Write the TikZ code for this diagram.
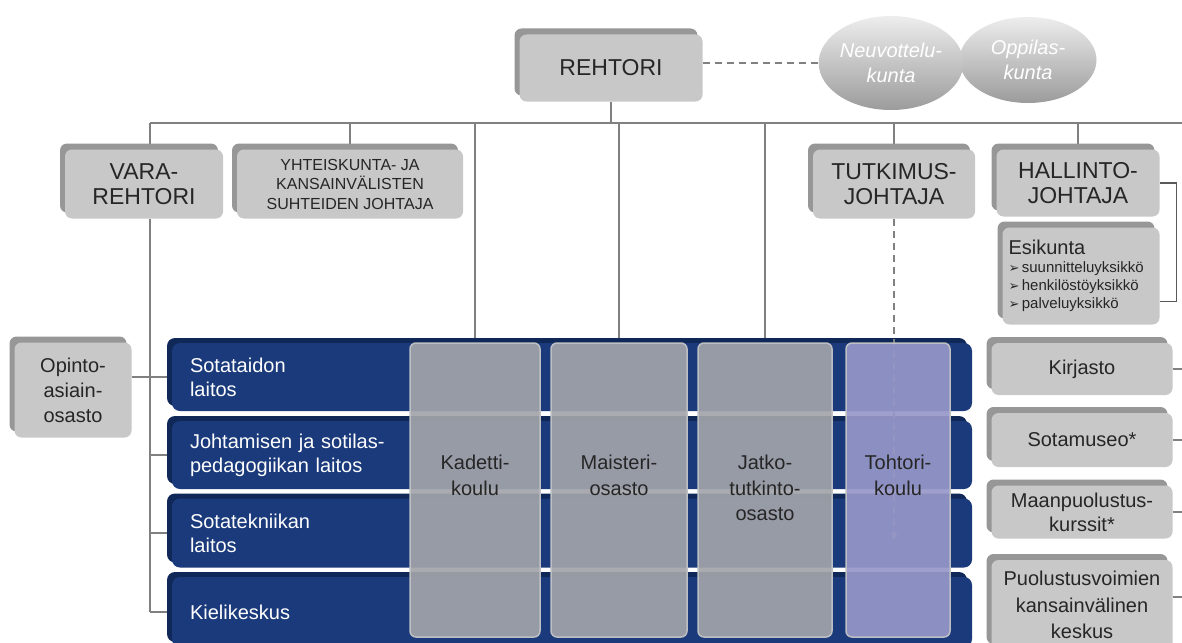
\documentclass[tikz,border=0pt]{standalone}
\usepackage{fontspec}
\setmainfont{Liberation Sans}
\newfontfamily\arrowfont{DejaVu Sans}
\usetikzlibrary{shapes.geometric, shadows, arrows.meta, backgrounds}

\definecolor{boxgray}{HTML}{C8C8C8}
\definecolor{boxdark}{HTML}{979797}
\definecolor{barblue}{HTML}{1B3A7B}
\definecolor{bardark}{HTML}{0F2858}
\definecolor{colgray}{HTML}{A2A4AA}
\definecolor{colrim}{HTML}{BDBFC3}
\definecolor{colviolet}{HTML}{9697C8}
\definecolor{linegray}{HTML}{808080}
\definecolor{textdark}{HTML}{262626}

\begin{document}
\begin{tikzpicture}[%
        x = 1pt,
        y = -1pt,
        > = {Triangle[length = 7pt, width = 6pt]},
        orgline/.style = {
            draw = linegray,
            line width = 1.6pt
        },
        dashline/.style = {
            draw = linegray,
            line width = 1.6pt,
            dash pattern = on 7pt off 5pt
        },
        orgbox/.style = {
            rectangle,
            rounded corners = 7pt,
            fill = boxgray,
            text = textdark,
            align = center,
            inner sep = 3pt,
            copy shadow = {shadow xshift = -5pt, shadow yshift = 6pt,
                           fill = boxdark, draw = none}
        },
        deptbar/.style = {
            rectangle,
            rounded corners = 8pt,
            fill = barblue,
            text = white,
            text width = 764pt,
            inner xsep = 18pt,
            align = left,
            font = \fontsize{20}{24}\selectfont,
            copy shadow = {shadow xshift = -5pt, shadow yshift = 5pt,
                           fill = bardark, draw = none}
        },
        schoolcol/.style = {
            rectangle,
            rounded corners = 6pt,
            fill = colgray,
            fill opacity = 0.92,
            text opacity = 1,
            draw = colrim,
            line width = 1.5pt,
            text = textdark,
            text width = 96pt,
            align = center,
            minimum height = 294pt,
            text depth = 55pt,
            font = \fontsize{20}{25.5}\selectfont
        },
        councilball/.style = {
            ellipse,
            inner sep = 0pt,
            top color = gray!14,
            bottom color = gray!78,
            text = white,
            align = center,
            font = \fontsize{20}{25}\selectfont\itshape
        }
    ]

        \useasboundingbox (0, 0) rectangle (1182, 642);

        % Ends of the long line under the rector.
        \coordinate (busL) at (150, 123);
        \coordinate (busR) at (1182, 123);

        % Rector and the two councils.
        \node[orgbox, minimum width = 183pt, minimum height = 67pt,
              font = \fontsize{23}{25}\selectfont] at (611, 68) (rehtori) {REHTORI};
        \node[councilball, minimum width = 137pt, minimum height = 86pt]
              at (1028, 60) (oppilas) {Oppilas-\\kunta};
        \node[councilball, minimum width = 136pt, minimum height = 94pt]
              at (891, 63) (neuvottelu) {Neuvottelu-\\kunta};

        % Second row of boxes.
        \node[orgbox, minimum width = 158pt, minimum height = 69pt,
              font = \fontsize{23}{25}\selectfont] at (144, 184) (vara) {VARA-\\REHTORI};
        \node[orgbox, minimum width = 226pt, minimum height = 69pt,
              font = \fontsize{16}{19.5}\selectfont] at (350, 184) (yhteis)
              {YHTEISKUNTA- JA\\KANSAINVÄLISTEN\\SUHTEIDEN JOHTAJA};
        \node[orgbox, minimum width = 162pt, minimum height = 69pt,
              font = \fontsize{23}{25}\selectfont] at (894, 184) (tutkimus) {TUTKIMUS-\\JOHTAJA};
        \node[orgbox, minimum width = 163pt, minimum height = 67pt,
              font = \fontsize{23}{25}\selectfont] at (1078, 183) (hallinto) {HALLINTO-\\JOHTAJA};
        \node[orgbox, minimum width = 157pt, minimum height = 97pt, text width = 145pt,
              inner xsep = 6pt, align = left, font = \fontsize{15}{18}\selectfont]
              at (1081, 276) (esikunta)
              {{\fontsize{20}{22}\selectfont Esikunta\par}
               {\arrowfont\fontsize{13}{18}\selectfont ➢}\,suunnitteluyksikkö\\
               {\arrowfont\fontsize{13}{18}\selectfont ➢}\,henkilöstöyksikkö\\
               {\arrowfont\fontsize{13}{18}\selectfont ➢}\,palveluyksikkö};

        % Study affairs office on the left.
        \node[orgbox, minimum width = 117pt, minimum height = 95pt,
              font = \fontsize{20}{25}\selectfont] at (73, 390) (opinto)
              {Opinto-\\asiain-\\osasto};

        % Units on the right.
        \node[orgbox, minimum width = 181pt, minimum height = 52pt,
              font = \fontsize{20}{24}\selectfont] at (1082, 369) (kirjasto) {Kirjasto};
        \node[orgbox, minimum width = 181pt, minimum height = 54pt,
              font = \fontsize{20}{24}\selectfont] at (1082, 440) (sotamuseo) {Sotamuseo*};
        \node[orgbox, minimum width = 181pt, minimum height = 53pt,
              font = \fontsize{20}{24}\selectfont] at (1082, 512) (maanpuolustus)
              {Maanpuolustus-\\kurssit*};
        \node[orgbox, minimum width = 181pt, minimum height = 90pt,
              font = \fontsize{20}{26.5}\selectfont] at (1082, 605) (puolustus)
              {Puolustusvoimien\\kansainvälinen\\keskus};

        % Blue department bars.
        \node[deptbar, minimum height = 68pt] at (572, 377) (sotataito) {Sotataidon\\laitos};
        \node[deptbar, minimum height = 68pt] at (572, 455) (johtaminen)
              {Johtamisen ja sotilas-\\pedagogiikan laitos};
        \node[deptbar, minimum height = 69pt] at (572, 533) (sotatekniikka) {Sotatekniikan\\laitos};
        \node[deptbar, minimum height = 70pt] at (572, 612) (kieli) {Kielikeskus};

        % Dashed arrow from the research director into the doctoral school.
        \coordinate (tohtorikarki) at (894, 540);
        \draw[dashline, ->] (tutkimus.south) -- (tohtorikarki);

        % Columns of the schools over the bars.
        \node[schoolcol, minimum width = 130pt] at (475, 490) (kadetti) {Kadetti-\\koulu};
        \node[schoolcol, minimum width = 136pt] at (619, 490) (maisteri) {Maisteri-\\osasto};
        \node[schoolcol, minimum width = 134pt] at (765, 490) (jatko) {Jatko-\\tutkinto-\\osasto};
        \node[schoolcol, minimum width = 104pt, text width = 90pt, fill = colviolet]
              at (898, 490) (tohtori) {Tohtori-\\koulu};

        % Dashed line to the councils.
        \draw[dashline] (neuvottelu.west -| rehtori.east) -- (neuvottelu.west);

        \begin{scope}[on background layer]
            % Line under the rector and the drops from it.
            \draw[orgline] (rehtori.south) -- (rehtori.south |- busL);
            \draw[orgline] (busL) -- (busR);
            \draw[orgline] (busL) -- (vara.north -| busL);
            \foreach \n in {yhteis, kadetti, maisteri, jatko, tutkimus, hallinto}
                \draw[orgline] (\n.north |- busL) -- (\n.north);

            % Line down from the vice rector to the departments.
            \draw[orgline] (vara.south -| busL) -- (kieli.west -| busL);
            \foreach \d in {sotataito, johtaminen, sotatekniikka, kieli}
                \draw[orgline] (\d.west -| busL) -- (\d.west);
            \draw[orgline] (opinto.east |- sotataito.west) -- (sotataito.west -| busL);

            % Bracket and short lines on the right.
            \draw[orgline, draw = gray!70!black, line width = 1.2pt]
                (hallinto.east) -- ++(17, 0) |- ([yshift = 23pt]esikunta.south east);
            \foreach \n in {kirjasto, sotamuseo, maanpuolustus}
                \draw[orgline, line width = 1.2pt] (\n.east) -- (\n.east -| busR);
            \draw[orgline, line width = 1.2pt]
                ([yshift = 8pt]puolustus.east) -- ([yshift = 8pt]puolustus.east -| busR);
        \end{scope}
    \end{tikzpicture}
\end{document}
